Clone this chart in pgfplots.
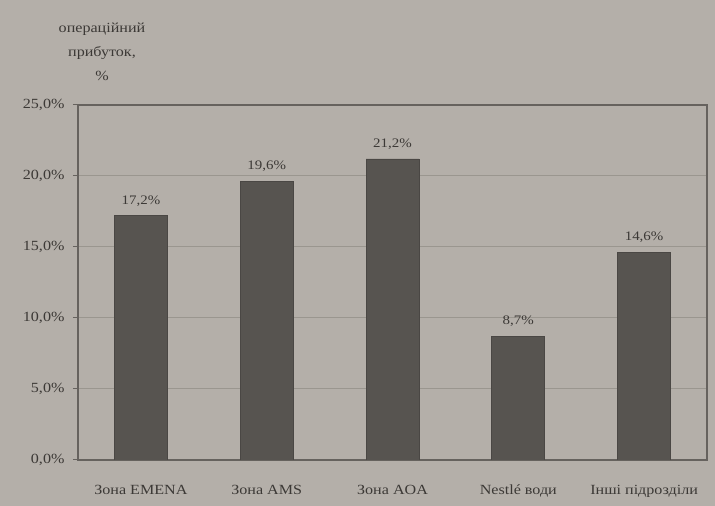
\documentclass[border=0pt]{standalone}
\usepackage{fontspec}
\setmainfont{Liberation Serif}[FakeStretch=1.15]
\usepackage{pgfplots}
\pgfplotsset{compat=1.18}

\definecolor{paper}{HTML}{B4AFA9}
\definecolor{barfill}{HTML}{575450}
\definecolor{gridc}{HTML}{9A968F}
\definecolor{framec}{HTML}{66625E}
\definecolor{inkc}{HTML}{3C3936}

\begin{document}
\begin{tikzpicture}[x=1pt,y=1pt]
\path[use as bounding box, fill=paper] (0,0) rectangle (715,506);
\begin{axis}[
  at={(78pt,46pt)}, anchor=south west,
  scale only axis, width=629pt, height=355pt,
  xmin=-0.5, xmax=4.5, ymin=0, ymax=25,
  ybar, bar width=53pt,
  xtick=data,
  xticklabels={Зона EMENA, Зона AMS, Зона AOA, Nestlé води, Інші підрозділи},
  xtick style={draw=none},
  xticklabel style={font=\fontsize{14}{16}\selectfont, text=inkc,
    text height=11pt, text depth=3pt, yshift=-15pt},
  ytick={0,5,10,15,20,25},
  yticklabel={\pgfmathprintnumber[fixed,fixed zerofill,precision=1,use comma]{\tick}\%},
  /pgf/number format/assume math mode=true,
  yticklabel style={font=\fontsize{14}{16}\selectfont, text=inkc, xshift=-5pt},
  ytick pos=left, tick align=outside, major tick length=5pt,
  ytick style={framec, line width=1pt},
  ymajorgrids, major grid style={gridc, line width=1pt},
  axis line style={framec, line width=1.5pt},
  axis background/.style={fill=paper},
  ylabel={операційний\\прибуток,\\\%},
  every axis y label/.style={at={(rel axis cs:0,1)}, anchor=south, xshift=24pt, yshift=21pt,
    align=center, font=\fontsize{14}{24}\selectfont, text=inkc},
  nodes near coords={\pgfmathprintnumber[fixed,fixed zerofill,precision=1,use comma]{\pgfplotspointmeta}\%},
  every node near coord/.append style={font=\fontsize{13}{15}\selectfont, text=inkc, yshift=6pt},
]
\addplot[fill=barfill, draw=barfill!85!black, line width=0.8pt]
  coordinates {(0,17.2) (1,19.6) (2,21.2) (3,8.7) (4,14.6)};
\end{axis}
\end{tikzpicture}
\end{document}
